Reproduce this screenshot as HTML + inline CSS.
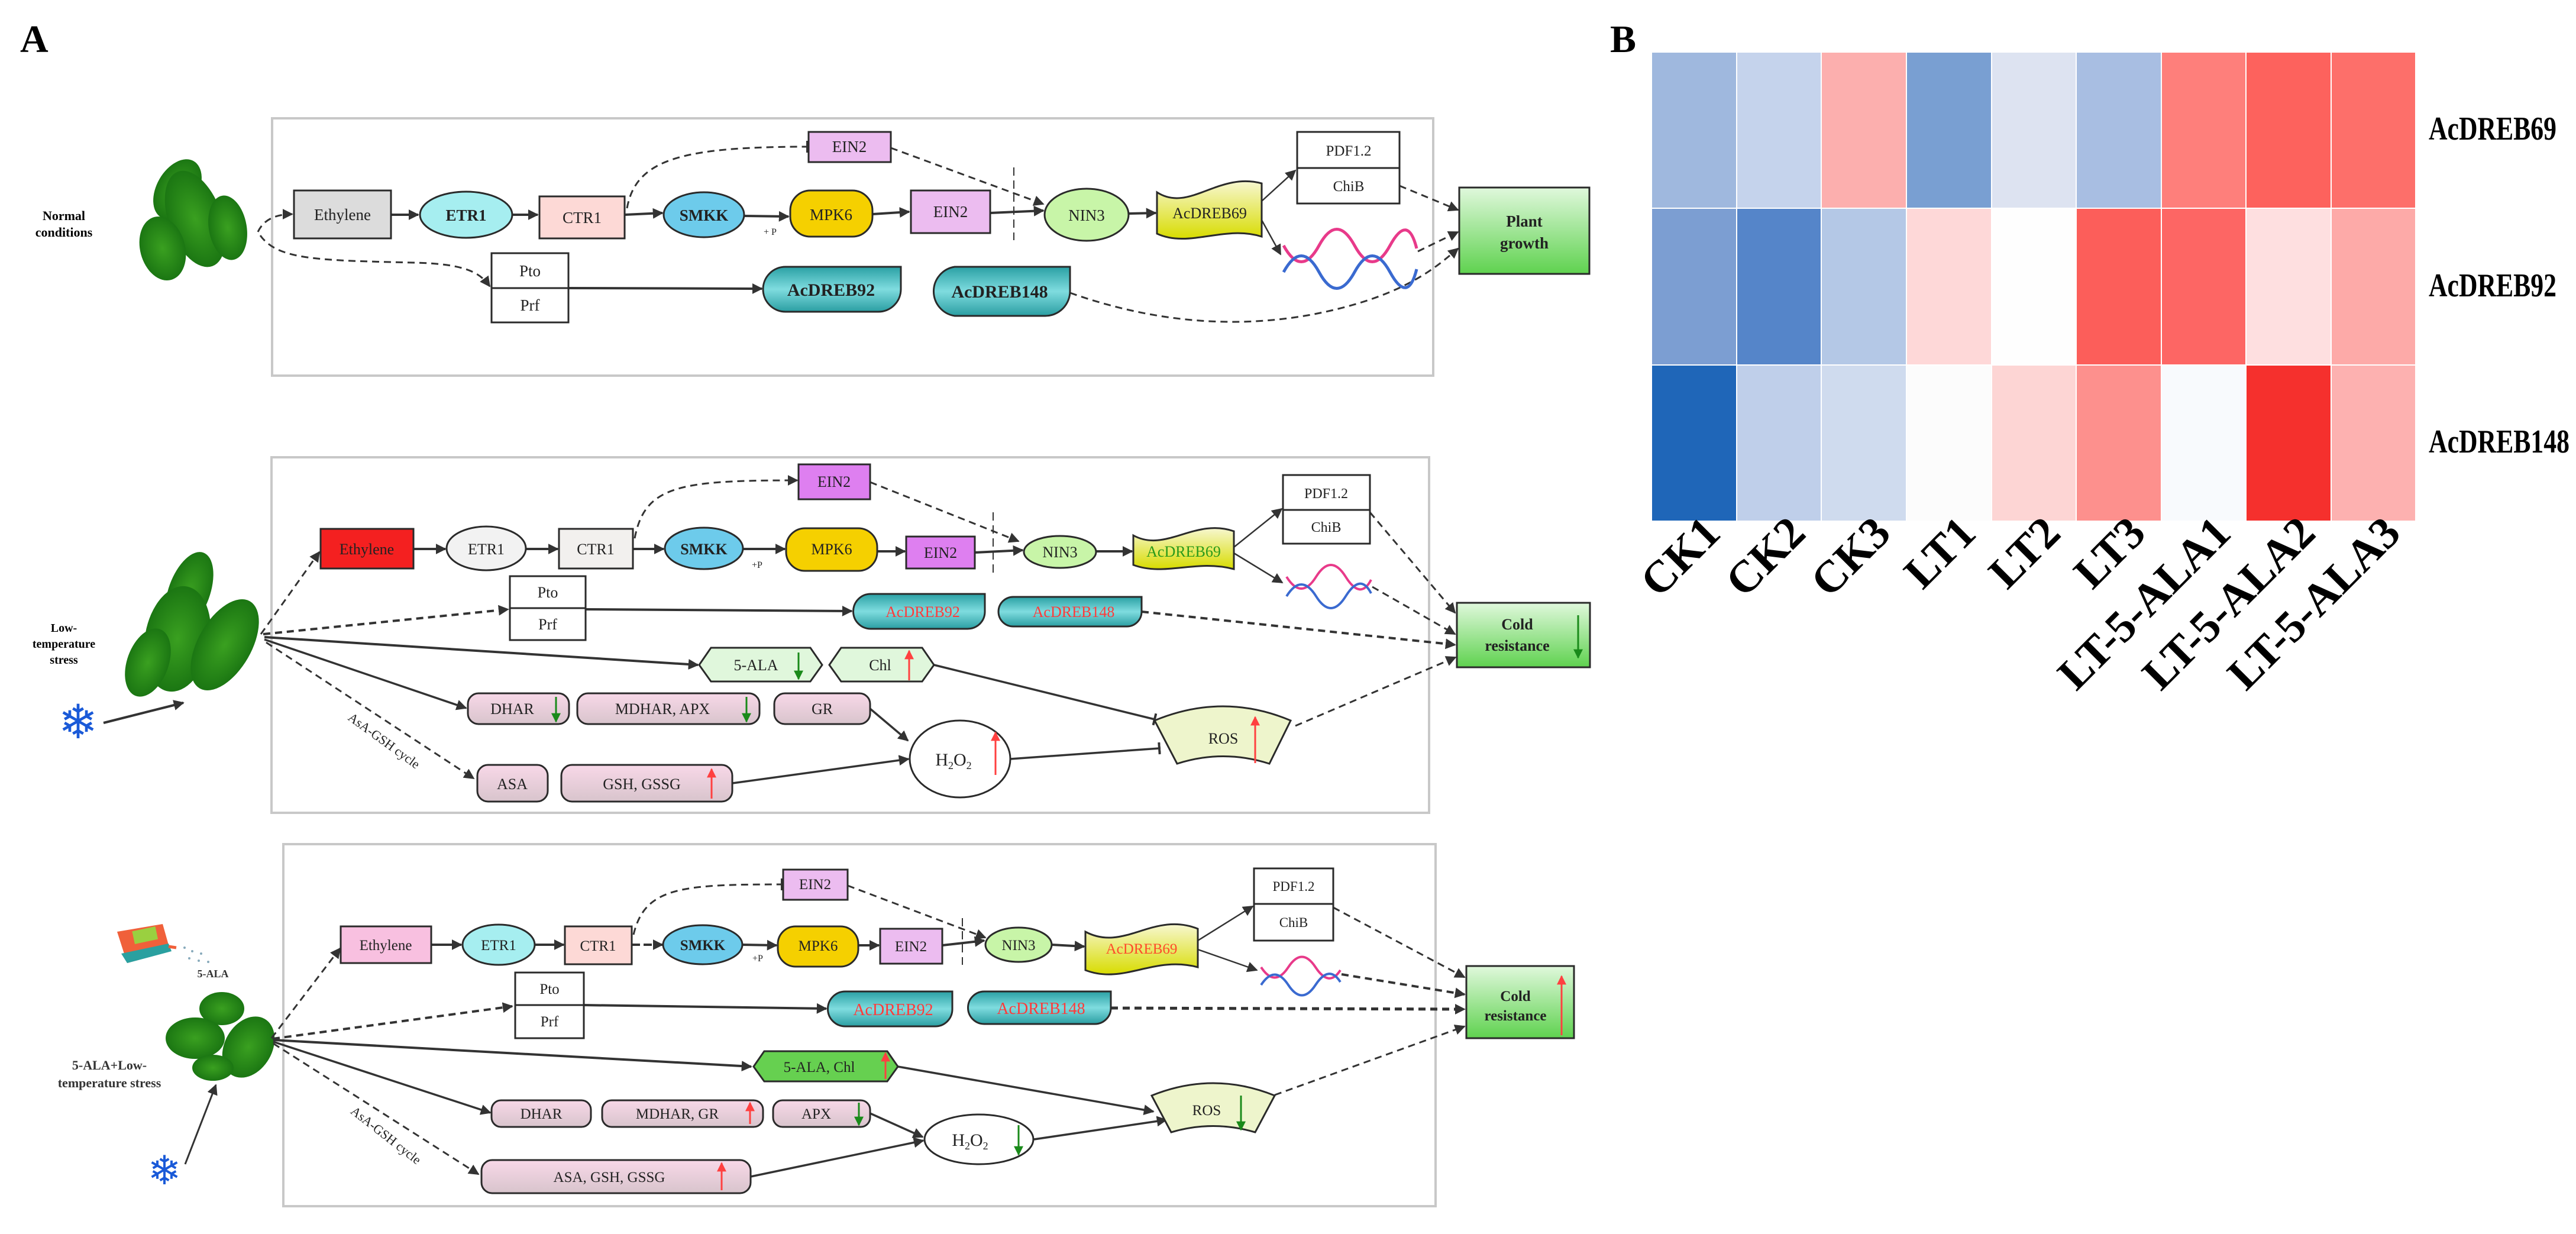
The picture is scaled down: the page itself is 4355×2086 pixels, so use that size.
<!DOCTYPE html>
<html><head><meta charset="utf-8"><style>
html,body{margin:0;padding:0;background:#fff;}
svg{display:block;}
text{font-family:"Liberation Serif",serif;}
</style></head><body>
<svg width="4355" height="2086" viewBox="0 0 4355 2086" xmlns="http://www.w3.org/2000/svg">
<defs>
<marker id="ar" viewBox="0 0 10 10" refX="9" refY="5" markerWidth="18" markerHeight="18" markerUnits="userSpaceOnUse" orient="auto"><path d="M0,0 L10,5 L0,10 z" fill="#333"/></marker>
<marker id="tee" viewBox="0 0 10 10" refX="9" refY="5" markerWidth="20" markerHeight="24" markerUnits="userSpaceOnUse" orient="auto"><path d="M9,0 L9,10" stroke="#333" stroke-width="2"/></marker>
<marker id="ra" viewBox="0 0 10 10" refX="9" refY="5" markerWidth="16" markerHeight="16" markerUnits="userSpaceOnUse" orient="auto"><path d="M0,0 L10,5 L0,10 z" fill="#ff4040"/></marker>
<marker id="ga" viewBox="0 0 10 10" refX="9" refY="5" markerWidth="16" markerHeight="16" markerUnits="userSpaceOnUse" orient="auto"><path d="M0,0 L10,5 L0,10 z" fill="#1a8a1a"/></marker>
<linearGradient id="gg" x1="0" y1="0" x2="0" y2="1"><stop offset="0" stop-color="#e0f8dc"/><stop offset="1" stop-color="#5fd24f"/></linearGradient>
<linearGradient id="yg" x1="0" y1="0" x2="0" y2="1"><stop offset="0" stop-color="#f7f7d0"/><stop offset="1" stop-color="#d8dc00"/></linearGradient>
<linearGradient id="tg" x1="0" y1="0" x2="0" y2="1"><stop offset="0" stop-color="#2aa0a4"/><stop offset="0.5" stop-color="#7fdcdf"/><stop offset="1" stop-color="#2a9ea2"/></linearGradient>
<linearGradient id="pg" x1="0" y1="0" x2="0" y2="1"><stop offset="0" stop-color="#f8d8e8"/><stop offset="1" stop-color="#d8c4cc"/></linearGradient>
<radialGradient id="lf" cx="0.5" cy="0.5" r="0.6"><stop offset="0" stop-color="#3aa020"/><stop offset="1" stop-color="#156e10"/></radialGradient>
</defs>

<text x="34" y="88" font-size="66" font-weight="bold">A</text>
<text x="2722" y="88" font-size="66" font-weight="bold">B</text>

<!-- ============ PANEL 1 ============ -->
<rect x="460" y="200" width="1963" height="435" fill="none" stroke="#c8c8c8" stroke-width="4"/>
<g fill="url(#lf)">
<ellipse cx="300" cy="320" rx="55" ry="35" transform="rotate(-60 300 320)"/>
<ellipse cx="330" cy="370" rx="85" ry="45" transform="rotate(70 330 370)"/>
<ellipse cx="275" cy="420" rx="55" ry="38" transform="rotate(75 275 420)"/>
<ellipse cx="385" cy="385" rx="55" ry="32" transform="rotate(80 385 385)"/>
</g>
<text x="108" y="372" font-size="22" font-weight="bold" text-anchor="middle">Normal</text>
<text x="108" y="400" font-size="22" font-weight="bold" text-anchor="middle">conditions</text>

<g stroke="#333" stroke-width="3" fill="none">
<path d="M436,392 Q450,362 494,362" stroke-dasharray="12 8" marker-end="url(#ar)"/>
<path d="M440,398 C470,440 540,440 700,444 C790,446 812,462 828,484" stroke-dasharray="12 8" marker-end="url(#ar)"/>
<path d="M661,363 L707,363" stroke-width="4" marker-end="url(#ar)"/>
<path d="M866,363 L909,363" stroke-width="4" marker-end="url(#ar)"/>
<path d="M1056,363 L1120,360" stroke-width="4" marker-end="url(#ar)"/>
<path d="M1258,365 L1333,366" stroke-width="4" marker-end="url(#ar)"/>
<path d="M1475,362 L1537,358" stroke-width="4" marker-end="url(#ar)"/>
<path d="M1674,360 L1764,356" stroke-width="4" marker-end="url(#ar)"/>
<path d="M1908,361 L1954,360" stroke-width="4" marker-end="url(#ar)"/>
<path d="M1060,352 C1075,270 1150,248 1365,248" stroke-dasharray="12 8" marker-end="url(#tee)"/>
<path d="M1506,250 L1764,345" stroke-dasharray="12 8" marker-end="url(#ar)"/>
<path d="M1714,283 L1714,406" stroke-dasharray="14 8" stroke-width="2"/>
<path d="M2133,340 L2190,288" stroke-width="2.5" marker-end="url(#ar)"/>
<path d="M2133,372 L2165,430" stroke-width="2.5" marker-end="url(#ar)"/>
<path d="M2366,314 L2465,355" stroke-dasharray="12 8" marker-end="url(#ar)"/>
<path d="M2397,425 L2465,392" stroke-dasharray="12 8" marker-end="url(#ar)"/>
<path d="M1809,495 C1950,545 2100,560 2250,525 C2380,495 2430,450 2465,420" stroke-dasharray="12 8" marker-end="url(#ar)"/>
<path d="M961,487 L1288,488" stroke-width="4" marker-end="url(#ar)"/>
</g>
<g stroke="#2a2a2a" stroke-width="3">
<rect x="497" y="322" width="164" height="81" fill="#dcdcdc"/>
<ellipse cx="788" cy="363" rx="78" ry="39" fill="#a6eef0"/>
<rect x="912" y="332" width="144" height="71" fill="#fdd9d6"/>
<ellipse cx="1190" cy="363" rx="68" ry="38" fill="#6dcbeb"/>
<rect x="1336" y="322" width="139" height="78" rx="34" fill="#f5d000"/>
<rect x="1540" y="322" width="134" height="72" fill="#ecbcf0"/>
<ellipse cx="1837" cy="363" rx="71" ry="44" fill="#c8f5a8"/>
<path d="M1956,325 C2010,360 2060,290 2133,310 L2133,400 C2070,380 2010,420 1956,395 Z" fill="url(#yg)"/>
<rect x="2193" y="223" width="173" height="61" fill="#fff"/>
<rect x="2193" y="284" width="173" height="60" fill="#fff"/>
<rect x="2467" y="317" width="220" height="146" fill="url(#gg)"/>
<rect x="1367" y="223" width="139" height="51" fill="#ecbcf0"/>
<rect x="831" y="428" width="130" height="59" fill="#fff"/>
<rect x="831" y="487" width="130" height="58" fill="#fff"/>
<path d="M1328,451 H1523 V489 A38,38 0 0 1 1485,527 H1328 A38,38 0 0 1 1328,451 Z" fill="url(#tg)"/>
<path d="M1614,451 H1809 V492 A42,42 0 0 1 1767,534 H1614 A42,42 0 0 1 1614,451 Z" fill="url(#tg)"/>
</g>
<g font-size="27" text-anchor="middle" fill="#222">
<text x="579" y="372">Ethylene</text>
<text x="788" y="373" font-weight="bold">ETR1</text>
<text x="984" y="377">CTR1</text>
<text x="1190" y="373" font-weight="bold">SMKK</text>
<text x="1405" y="372">MPK6</text>
<text x="1607" y="367">EIN2</text>
<text x="1837" y="373">NIN3</text>
<text x="2045" y="369" font-size="26">AcDREB69</text>
<text x="2280" y="263" font-size="25">PDF1.2</text>
<text x="2280" y="323" font-size="25">ChiB</text>
<text x="2577" y="383" font-weight="bold">Plant</text>
<text x="2577" y="420" font-weight="bold">growth</text>
<text x="1436" y="257">EIN2</text>
<text x="896" y="467">Pto</text>
<text x="896" y="525">Prf</text>
<text x="1405" y="500" font-family="Liberation Sans,sans-serif" font-weight="bold" font-size="30">AcDREB92</text>
<text x="1690" y="503" font-family="Liberation Sans,sans-serif" font-weight="bold" font-size="30">AcDREB148</text>
<text x="1302" y="397" font-size="16">+ P</text>
</g>
<g fill="none" stroke-width="5">
<path d="M2170,415 Q2200,470 2230,415 T2290,415 T2350,415 T2395,420" stroke="#e83a8a"/>
<path d="M2170,460 Q2200,405 2230,460 T2290,460 T2350,460 T2395,455" stroke="#3a6ad0"/>
</g>

<!-- ============ PANEL 2 ============ -->
<rect x="459" y="773" width="1957" height="601" fill="none" stroke="#c8c8c8" stroke-width="4"/>
<g fill="url(#lf)">
<ellipse cx="320" cy="1000" rx="70" ry="35" transform="rotate(-70 320 1000)"/>
<ellipse cx="300" cy="1080" rx="90" ry="55" transform="rotate(-80 300 1080)"/>
<ellipse cx="380" cy="1090" rx="85" ry="45" transform="rotate(-60 380 1090)"/>
<ellipse cx="250" cy="1120" rx="60" ry="35" transform="rotate(-70 250 1120)"/>
</g>
<text x="108" y="1068" font-size="20" font-weight="bold" text-anchor="middle">Low-</text>
<text x="108" y="1095" font-size="20" font-weight="bold" text-anchor="middle">temperature</text>
<text x="108" y="1122" font-size="20" font-weight="bold" text-anchor="middle">stress</text>
<text x="132" y="1248" font-size="80" fill="#1a5ad8" text-anchor="middle" font-family="DejaVu Sans,sans-serif">❄</text>
<path d="M175,1222 L310,1188" stroke="#333" stroke-width="4" marker-end="url(#ar)"/>

<g stroke="#333" stroke-width="3" fill="none">
<path d="M441,1072 L540,933" stroke-dasharray="12 8" marker-end="url(#ar)"/>
<path d="M445,1072 L859,1030" stroke-dasharray="12 8" stroke-width="4" marker-end="url(#ar)"/>
<path d="M447,1077 L1180,1124" stroke-width="4" marker-end="url(#ar)"/>
<path d="M447,1081 L788,1197" stroke-width="3.5" marker-end="url(#ar)"/>
<path d="M450,1086 L801,1316" stroke-dasharray="12 8" marker-end="url(#ar)"/>
<path d="M699,928 L753,928" stroke-width="4" marker-end="url(#ar)"/>
<path d="M889,928 L943,928" stroke-width="4" marker-end="url(#ar)"/>
<path d="M1070,928 L1122,928" stroke-width="4" marker-end="url(#ar)"/>
<path d="M1256,928 L1327,928" stroke-width="4" marker-end="url(#ar)"/>
<path d="M1483,932 L1530,932" stroke-width="4" marker-end="url(#ar)"/>
<path d="M1648,934 L1729,930" stroke-width="4" marker-end="url(#ar)"/>
<path d="M1853,932 L1914,932" stroke-width="4" marker-end="url(#ar)"/>
<path d="M1073,910 C1090,820 1150,812 1348,812" stroke-dasharray="12 8" marker-end="url(#ar)"/>
<path d="M1471,815 L1722,915" stroke-dasharray="12 8" marker-end="url(#ar)"/>
<path d="M1679,866 L1679,971" stroke-dasharray="14 8" stroke-width="2"/>
<path d="M2086,925 L2167,860" stroke-width="2.5" marker-end="url(#ar)"/>
<path d="M2086,935 L2168,985" stroke-width="2.5" marker-end="url(#ar)"/>
<path d="M2316,866 L2460,1036" stroke-dasharray="12 8" marker-end="url(#ar)"/>
<path d="M2320,992 L2460,1072" stroke-dasharray="12 8" marker-end="url(#ar)"/>
<path d="M1930,1034 L2460,1090" stroke-dasharray="12 8" stroke-width="4" marker-end="url(#ar)"/>
<path d="M2190,1227 L2461,1111" stroke-dasharray="12 8" marker-end="url(#ar)"/>
<path d="M990,1030 L1440,1033" stroke-width="4" marker-end="url(#ar)"/>
<path d="M1579,1124 L1952,1216" stroke-width="3.5" marker-end="url(#tee)"/>
<path d="M1471,1198 L1535,1252" stroke-width="3.5" marker-end="url(#ar)"/>
<path d="M1238,1324 L1536,1283" stroke-width="3.5" marker-end="url(#ar)"/>
<path d="M1708,1283 L1960,1265" stroke-width="3.5" marker-end="url(#tee)"/>
</g>
<g stroke="#2a2a2a" stroke-width="3">
<rect x="542" y="894" width="157" height="67" fill="#f42020"/>
<ellipse cx="822" cy="927" rx="67" ry="37" fill="#f2f2f2"/>
<rect x="945" y="894" width="125" height="67" fill="#f2f0ee"/>
<ellipse cx="1190" cy="927" rx="66" ry="35" fill="#6dcbeb"/>
<rect x="1329" y="893" width="154" height="72" rx="32" fill="#f5d000"/>
<rect x="1532" y="907" width="116" height="54" fill="#de7ff0"/>
<ellipse cx="1792" cy="933" rx="61" ry="27" fill="#c8f5a8"/>
<path d="M1916,905 C1970,935 2020,875 2086,898 L2086,962 C2020,945 1970,975 1916,955 Z" fill="url(#yg)"/>
<rect x="2169" y="803" width="147" height="59" fill="#fff"/>
<rect x="2169" y="862" width="147" height="57" fill="#fff"/>
<rect x="2463" y="1019" width="225" height="109" fill="url(#gg)"/>
<rect x="1350" y="785" width="121" height="59" fill="#de7ff0"/>
<rect x="862" y="974" width="128" height="54" fill="#fff"/>
<rect x="862" y="1028" width="128" height="54" fill="#fff"/>
<path d="M1472,1004 H1665 V1034 A29,29 0 0 1 1636,1063 H1472 A29,29 0 0 1 1472,1004 Z" fill="url(#tg)"/>
<path d="M1713,1009 H1930 V1034 A25,25 0 0 1 1905,1059 H1713 A25,25 0 0 1 1713,1009 Z" fill="url(#tg)"/>
<polygon points="1182,1124 1202,1095 1370,1095 1390,1124 1370,1152 1202,1152" fill="#e0f7dc"/>
<polygon points="1402,1124 1422,1095 1559,1095 1579,1124 1559,1152 1422,1152" fill="#e0f7dc"/>
<rect x="791" y="1172" width="171" height="52" rx="18" fill="url(#pg)"/>
<rect x="976" y="1172" width="308" height="52" rx="18" fill="url(#pg)"/>
<rect x="1309" y="1172" width="162" height="52" rx="18" fill="url(#pg)"/>
<rect x="807" y="1293" width="119" height="62" rx="18" fill="url(#pg)"/>
<rect x="949" y="1293" width="289" height="62" rx="18" fill="url(#pg)"/>
<ellipse cx="1623" cy="1283" rx="85" ry="65" fill="#fff"/>
<path d="M1952,1218 Q2068,1170 2182,1218 L2146,1291 Q2068,1266 1990,1291 Z" fill="#eef5cc"/>
</g>
<g font-size="26" text-anchor="middle" fill="#222">
<text x="620" y="937">Ethylene</text>
<text x="822" y="937">ETR1</text>
<text x="1007" y="937">CTR1</text>
<text x="1190" y="937" font-weight="bold">SMKK</text>
<text x="1406" y="937">MPK6</text>
<text x="1590" y="943">EIN2</text>
<text x="1792" y="942">NIN3</text>
<text x="2001" y="941" fill="#2a9a1a">AcDREB69</text>
<text x="2242" y="842" font-size="24">PDF1.2</text>
<text x="2242" y="899" font-size="24">ChiB</text>
<text x="2565" y="1064" font-weight="bold">Cold</text>
<text x="2565" y="1100" font-weight="bold">resistance</text>
<text x="1410" y="823">EIN2</text>
<text x="926" y="1010">Pto</text>
<text x="926" y="1064">Prf</text>
<text x="1560" y="1043" fill="#ff3a3a">AcDREB92</text>
<text x="1815" y="1043" fill="#ff3a3a">AcDREB148</text>
<text x="1280" y="960" font-size="16">+P</text>
<text x="1278" y="1133">5-ALA</text>
<text x="1488" y="1133">Chl</text>
<text x="866" y="1207">DHAR</text>
<text x="1120" y="1207">MDHAR, APX</text>
<text x="1390" y="1207">GR</text>
<text x="866" y="1334">ASA</text>
<text x="1085" y="1334">GSH, GSSG</text>
<text x="1612" y="1294" font-size="30">H<tspan font-size="18" dy="6">2</tspan><tspan dy="-6">O</tspan><tspan font-size="18" dy="6">2</tspan></text>
<text x="2068" y="1257">ROS</text>
<text x="645" y="1258" font-size="22" transform="rotate(36 645 1258)">AsA-GSH cycle</text>
</g>
<g stroke-width="3">
<path d="M2668,1040 L2668,1112" stroke="#1a8a1a" marker-end="url(#ga)"/>
<path d="M1350,1103 L1350,1148" stroke="#1a8a1a" marker-end="url(#ga)"/>
<path d="M1537,1150 L1537,1100" stroke="#ff4040" marker-end="url(#ra)"/>
<path d="M940,1178 L940,1220" stroke="#1a8a1a" marker-end="url(#ga)"/>
<path d="M1262,1178 L1262,1220" stroke="#1a8a1a" marker-end="url(#ga)"/>
<path d="M1203,1350 L1203,1300" stroke="#ff4040" marker-end="url(#ra)"/>
<path d="M1683,1310 L1683,1238" stroke="#ff4040" marker-end="url(#ra)"/>
<path d="M2122,1290 L2122,1212" stroke="#ff4040" marker-end="url(#ra)"/>
</g>
<g fill="none" stroke-width="4">
<path d="M2175,975 Q2200,1015 2225,975 T2275,975 T2318,980" stroke="#e83a8a"/>
<path d="M2175,1008 Q2200,968 2225,1008 T2275,1008 T2318,1003" stroke="#3a6ad0"/>
</g>

<!-- ============ PANEL 3 ============ -->
<rect x="479" y="1427" width="1948" height="612" fill="none" stroke="#c8c8c8" stroke-width="4"/>
<g>
<path d="M198,1575 L275,1562 L288,1608 L215,1628 Z" fill="#f0603a"/>
<rect x="225" y="1570" width="40" height="22" fill="#9ad040" transform="rotate(-12 245 1580)"/>
<path d="M205,1612 L285,1595 L290,1608 L215,1628 Z" fill="#2aa0a0"/>
<path d="M285,1600 L298,1602" stroke="#f0603a" stroke-width="5"/>
<g fill="#8ab"><circle cx="312" cy="1602" r="2"/><circle cx="325" cy="1608" r="2"/><circle cx="340" cy="1612" r="2"/><circle cx="320" cy="1620" r="2"/><circle cx="336" cy="1624" r="2"/><circle cx="352" cy="1626" r="2"/></g>
</g>
<text x="360" y="1652" font-size="18" font-weight="bold" text-anchor="middle" fill="#333">5-ALA</text>
<g fill="url(#lf)">
<ellipse cx="375" cy="1705" rx="38" ry="28"/>
<ellipse cx="330" cy="1755" rx="50" ry="35"/>
<ellipse cx="420" cy="1770" rx="40" ry="55" transform="rotate(30 420 1770)"/>
<ellipse cx="360" cy="1805" rx="35" ry="22"/>
</g>
<text x="185" y="1808" font-size="22" font-weight="bold" text-anchor="middle" fill="#333">5-ALA+Low-</text>
<text x="185" y="1838" font-size="22" font-weight="bold" text-anchor="middle" fill="#333">temperature stress</text>
<text x="278" y="2002" font-size="68" fill="#1a5ad8" text-anchor="middle" font-family="DejaVu Sans,sans-serif">❄</text>
<path d="M313,1968 L365,1834" stroke="#333" stroke-width="3" marker-end="url(#ar)"/>

<g stroke="#333" stroke-width="3" fill="none">
<path d="M459,1755 L575,1603" stroke-dasharray="12 8" marker-end="url(#ar)"/>
<path d="M461,1756 L866,1701" stroke-dasharray="12 8" stroke-width="4" marker-end="url(#ar)"/>
<path d="M462,1758 L1270,1803" stroke-width="4" marker-end="url(#ar)"/>
<path d="M462,1761 L829,1881" stroke-width="3.5" marker-end="url(#ar)"/>
<path d="M462,1764 L809,1985" stroke-dasharray="12 8" marker-end="url(#ar)"/>
<path d="M729,1597 L780,1597" stroke-width="4" marker-end="url(#ar)"/>
<path d="M904,1597 L953,1597" stroke-width="4" marker-end="url(#ar)"/>
<path d="M1068,1597 L1120,1597" stroke-width="4" stroke-dasharray="14 6" marker-end="url(#ar)"/>
<path d="M1255,1597 L1313,1598" stroke-width="4" marker-end="url(#ar)"/>
<path d="M1451,1598 L1486,1598" stroke-width="4" marker-end="url(#ar)"/>
<path d="M1593,1598 L1664,1590" stroke-width="4" marker-end="url(#ar)"/>
<path d="M1778,1597 L1833,1600" stroke-width="4" marker-end="url(#ar)"/>
<path d="M1071,1580 C1090,1500 1150,1495 1322,1495" stroke-dasharray="12 8" marker-end="url(#tee)"/>
<path d="M1433,1497 L1666,1585" stroke-dasharray="12 8" marker-end="url(#ar)"/>
<path d="M1627,1552 L1627,1631" stroke-dasharray="14 8" stroke-width="2"/>
<path d="M2025,1590 L2118,1532" stroke-width="2.5" marker-end="url(#ar)"/>
<path d="M2025,1605 L2125,1640" stroke-width="2.5" marker-end="url(#ar)"/>
<path d="M2254,1534 L2476,1652" stroke-dasharray="12 8" marker-end="url(#ar)"/>
<path d="M2268,1647 L2476,1681" stroke-dasharray="12 8" stroke-width="4" marker-end="url(#ar)"/>
<path d="M1878,1704 L2476,1706" stroke-dasharray="12 8" stroke-width="5" marker-end="url(#ar)"/>
<path d="M2155,1851 L2476,1735" stroke-dasharray="12 8" marker-end="url(#ar)"/>
<path d="M987,1699 L1397,1705" stroke-width="4" marker-end="url(#ar)"/>
<path d="M1518,1803 L1950,1879" stroke-width="3.5" marker-end="url(#ar)"/>
<path d="M1471,1882 L1560,1922" stroke-width="3.5" marker-end="url(#ar)"/>
<path d="M1269,1989 L1561,1928" stroke-width="3.5" marker-end="url(#ar)"/>
<path d="M1748,1926 L1972,1893" stroke-width="3.5" marker-end="url(#ar)"/>
</g>
<g stroke="#2a2a2a" stroke-width="3">
<rect x="576" y="1566" width="153" height="62" fill="#f8c0e0"/>
<ellipse cx="843" cy="1597" rx="61" ry="34" fill="#a6eef0"/>
<rect x="955" y="1566" width="113" height="64" fill="#fdd9d6"/>
<ellipse cx="1188" cy="1597" rx="67" ry="33" fill="#6dcbeb"/>
<rect x="1315" y="1566" width="136" height="68" rx="30" fill="#f5d000"/>
<rect x="1488" y="1570" width="105" height="59" fill="#ecbcf0"/>
<ellipse cx="1722" cy="1597" rx="56" ry="29" fill="#c8f5a8"/>
<path d="M1835,1575 C1900,1610 1950,1540 2025,1570 L2025,1635 C1950,1615 1900,1665 1835,1640 Z" fill="url(#yg)"/>
<rect x="2120" y="1468" width="134" height="60" fill="#fff"/>
<rect x="2120" y="1528" width="134" height="62" fill="#fff"/>
<rect x="2479" y="1633" width="182" height="122" fill="url(#gg)"/>
<rect x="1324" y="1470" width="109" height="51" fill="#ecbcf0"/>
<rect x="871" y="1644" width="116" height="55" fill="#fff"/>
<rect x="871" y="1699" width="116" height="56" fill="#fff"/>
<path d="M1429,1676 H1610 V1706 A29,29 0 0 1 1581,1735 H1429 A29,29 0 0 1 1429,1676 Z" fill="url(#tg)"/>
<path d="M1664,1676 H1878 V1704 A27,27 0 0 1 1851,1731 H1664 A27,27 0 0 1 1664,1676 Z" fill="url(#tg)"/>
<polygon points="1274,1803 1292,1777 1500,1777 1518,1803 1500,1828 1292,1828" fill="#66d050"/>
<rect x="831" y="1860" width="168" height="45" rx="16" fill="url(#pg)"/>
<rect x="1018" y="1860" width="272" height="45" rx="16" fill="url(#pg)"/>
<rect x="1307" y="1860" width="164" height="45" rx="16" fill="url(#pg)"/>
<rect x="814" y="1961" width="455" height="56" rx="18" fill="url(#pg)"/>
<ellipse cx="1655" cy="1926" rx="92" ry="42" fill="#fff"/>
<path d="M1947,1852 Q2051,1810 2155,1852 L2122,1914 Q2051,1893 1980,1914 Z" fill="#eef5cc"/>
</g>
<g font-size="25" text-anchor="middle" fill="#222">
<text x="652" y="1606">Ethylene</text>
<text x="843" y="1606">ETR1</text>
<text x="1011" y="1607">CTR1</text>
<text x="1188" y="1606" font-weight="bold">SMKK</text>
<text x="1383" y="1607">MPK6</text>
<text x="1540" y="1608">EIN2</text>
<text x="1722" y="1606">NIN3</text>
<text x="1930" y="1612" fill="#ff4a2a">AcDREB69</text>
<text x="2187" y="1506" font-size="23">PDF1.2</text>
<text x="2187" y="1567" font-size="23">ChiB</text>
<text x="2562" y="1692" font-weight="bold">Cold</text>
<text x="2562" y="1725" font-weight="bold">resistance</text>
<text x="1378" y="1503">EIN2</text>
<text x="929" y="1680">Pto</text>
<text x="929" y="1735">Prf</text>
<text x="1510" y="1716" fill="#ff3a3a" font-family="Liberation Sans,sans-serif" font-size="28">AcDREB92</text>
<text x="1760" y="1714" fill="#ff3a3a" font-family="Liberation Sans,sans-serif" font-size="28">AcDREB148</text>
<text x="1281" y="1625" font-size="16">+P</text>
<text x="1385" y="1812">5-ALA, Chl</text>
<text x="915" y="1891">DHAR</text>
<text x="1145" y="1891">MDHAR, GR</text>
<text x="1380" y="1891">APX</text>
<text x="1030" y="1998">ASA, GSH, GSSG</text>
<text x="1640" y="1937" font-size="30">H<tspan font-size="18" dy="6">2</tspan><tspan dy="-6">O</tspan><tspan font-size="18" dy="6">2</tspan></text>
<text x="2040" y="1885">ROS</text>
<text x="648" y="1925" font-size="22" transform="rotate(38 648 1925)">AsA-GSH cycle</text>
</g>
<g stroke-width="3">
<path d="M2640,1750 L2640,1650" stroke="#ff4040" marker-end="url(#ra)"/>
<path d="M1497,1824 L1497,1780" stroke="#ff4040" marker-end="url(#ra)"/>
<path d="M1268,1900 L1268,1864" stroke="#ff4040" marker-end="url(#ra)"/>
<path d="M1452,1864 L1452,1902" stroke="#1a8a1a" marker-end="url(#ga)"/>
<path d="M1220,2012 L1220,1966" stroke="#ff4040" marker-end="url(#ra)"/>
<path d="M1722,1902 L1722,1952" stroke="#1a8a1a" marker-end="url(#ga)"/>
<path d="M2098,1852 L2098,1910" stroke="#1a8a1a" marker-end="url(#ga)"/>
</g>
<g fill="none" stroke-width="4">
<path d="M2132,1635 Q2155,1670 2178,1635 T2224,1635 T2266,1640" stroke="#e83a8a"/>
<path d="M2132,1665 Q2155,1630 2178,1665 T2224,1665 T2266,1660" stroke="#3a6ad0"/>
</g>

<!-- ============ PANEL B HEATMAP ============ -->
<g stroke="#fff" stroke-width="2">
<rect x="2792" y="88" width="144" height="264" fill="#9fb8de"/>
<rect x="2936" y="88" width="143" height="264" fill="#c5d3ec"/>
<rect x="3079" y="88" width="144" height="264" fill="#fcafae"/>
<rect x="3223" y="88" width="144" height="264" fill="#799fd2"/>
<rect x="3367" y="88" width="143" height="264" fill="#dde3f1"/>
<rect x="3510" y="88" width="144" height="264" fill="#a8bee2"/>
<rect x="3654" y="88" width="143" height="264" fill="#fe7f7b"/>
<rect x="3797" y="88" width="144" height="264" fill="#fd625d"/>
<rect x="3941" y="88" width="143" height="264" fill="#fd6f6a"/>
<rect x="2792" y="352" width="144" height="265" fill="#7c9ed2"/>
<rect x="2936" y="352" width="143" height="265" fill="#5585c9"/>
<rect x="3079" y="352" width="144" height="265" fill="#b4c8e6"/>
<rect x="3223" y="352" width="144" height="265" fill="#fed8d8"/>
<rect x="3367" y="352" width="143" height="265" fill="#fefefe"/>
<rect x="3510" y="352" width="144" height="265" fill="#fc5e5a"/>
<rect x="3654" y="352" width="143" height="265" fill="#fd6664"/>
<rect x="3797" y="352" width="144" height="265" fill="#fedfe0"/>
<rect x="3941" y="352" width="143" height="265" fill="#fdaaa8"/>
<rect x="2792" y="617" width="144" height="264" fill="#1f66b8"/>
<rect x="2936" y="617" width="143" height="264" fill="#bfcfea"/>
<rect x="3079" y="617" width="144" height="264" fill="#cfdbee"/>
<rect x="3223" y="617" width="144" height="264" fill="#fcfcfc"/>
<rect x="3367" y="617" width="143" height="264" fill="#fdd5d4"/>
<rect x="3510" y="617" width="144" height="264" fill="#fd908d"/>
<rect x="3654" y="617" width="143" height="264" fill="#f8fafd"/>
<rect x="3797" y="617" width="144" height="264" fill="#f5302d"/>
<rect x="3941" y="617" width="143" height="264" fill="#fdb1b0"/>
</g>
<g font-size="56" font-weight="bold">
<text x="4106" y="236" textLength="216" lengthAdjust="spacingAndGlyphs">AcDREB69</text>
<text x="4106" y="501" textLength="216" lengthAdjust="spacingAndGlyphs">AcDREB92</text>
<text x="4106" y="765" textLength="238" lengthAdjust="spacingAndGlyphs">AcDREB148</text>
</g>
<g font-size="76" font-weight="bold" text-anchor="end">
<text transform="translate(2912,905) rotate(-45)">CK1</text>
<text transform="translate(3056,905) rotate(-45)">CK2</text>
<text transform="translate(3200,905) rotate(-45)">CK3</text>
<text transform="translate(3344,905) rotate(-45)">LT1</text>
<text transform="translate(3487,905) rotate(-45)">LT2</text>
<text transform="translate(3631,905) rotate(-45)">LT3</text>
<text transform="translate(3775,905) rotate(-45)">LT-5-ALA1</text>
<text transform="translate(3918,905) rotate(-45)">LT-5-ALA2</text>
<text transform="translate(4062,905) rotate(-45)">LT-5-ALA3</text>
</g>
</svg>
</body></html>
